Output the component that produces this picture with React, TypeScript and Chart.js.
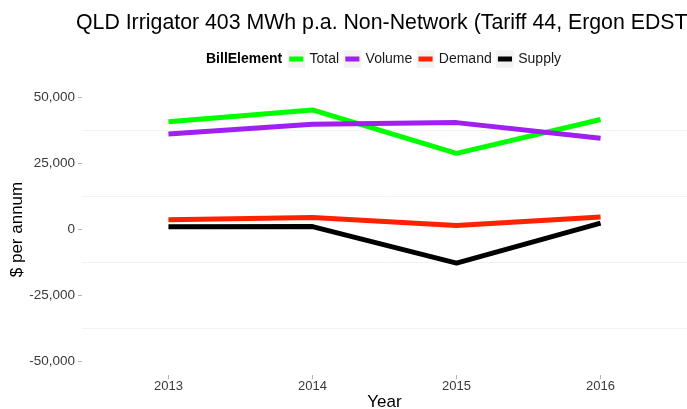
import React, { useEffect, useRef } from 'react';
import { Chart, registerables } from 'chart.js';

Chart.register(...registerables);

const years = [2013, 2014, 2015, 2016];
const seriesNames = ['Total', 'Volume', 'Demand', 'Supply'];
const totalValues = [40700, 45200, 28800, 41600];
const volumeValues = [36100, 39800, 40400, 34500];
const demandValues = [3700, 4500, 1500, 4700];
const supplyValues = [1000, 1100, -12700, 2400];
const seriesColors = ['#00ff00', '#a020f0', '#ff2200', '#000000'];
const yMajorTicks = [-50000, -25000, 0, 25000, 50000];
const yMinorTicks = [-37500, -12500, 12500, 37500];
const titleText = 'QLD Irrigator 403 MWh p.a. Non-Network (Tariff 44, Ergon EDST';
const legendTitle = 'BillElement';
const xAxisTitle = 'Year';
const yAxisTitle = '$ per annum';

const FONT = '"Liberation Sans", Arial, Helvetica, sans-serif';

const headerPlugin = {
  id: 'header',
  afterDraw(chart: any) {
    const ctx = chart.ctx as CanvasRenderingContext2D;
    ctx.save();
    // title
    ctx.fillStyle = '#000000';
    ctx.font = `21.3px ${FONT}`;
    ctx.textAlign = 'left';
    ctx.textBaseline = 'middle';
    ctx.fillText(titleText, 76, 23.5);

    // legend
    const cy = 59;
    let x = 206;
    ctx.font = `bold 14px ${FONT}`;
    ctx.fillStyle = '#000000';
    ctx.fillText(legendTitle, x, cy);
    x += ctx.measureText(legendTitle).width + 5.3;
    ctx.font = `14px ${FONT}`;
    chart.data.datasets.forEach((ds: any) => {
      const box = 17.5;
      ctx.fillStyle = '#f2f2f2';
      ctx.fillRect(x, cy - box / 2, box, box);
      ctx.strokeStyle = ds.borderColor;
      ctx.lineWidth = 5;
      ctx.lineCap = 'butt';
      ctx.beginPath();
      ctx.moveTo(x + 1.7, cy);
      ctx.lineTo(x + box - 1.7, cy);
      ctx.stroke();
      x += box + 4.5;
      ctx.fillStyle = '#1a1a1a';
      ctx.fillText(ds.label, x, cy);
      x += ctx.measureText(ds.label).width + 4.5;
    });
    ctx.restore();
  },
};

export default function App() {
  const canvasRef = useRef<HTMLCanvasElement | null>(null);

  useEffect(() => {
    const canvas = canvasRef.current;
    if (!canvas) return;
    const valueSets = [totalValues, volumeValues, demandValues, supplyValues];
    const datasets = seriesNames.map((name, i) => ({
      label: name,
      data: years.map((yr, j) => ({ x: yr, y: valueSets[i][j] })),
      borderColor: seriesColors[i],
      backgroundColor: seriesColors[i],
      borderWidth: 5,
      pointRadius: 0,
      pointHoverRadius: 0,
      tension: 0,
      fill: false,
      borderCapStyle: 'butt' as const,
      borderJoinStyle: 'round' as const,
      order: seriesNames.length - i,
    }));

    const chart = new Chart(canvas, {
      type: 'line',
      data: { datasets },
      plugins: [headerPlugin],
      options: {
        responsive: false,
        animation: false,
        devicePixelRatio: 1,
        layout: { padding: { top: 84, right: 0, bottom: 0, left: 0 } },
        plugins: {
          legend: { display: false },
          title: { display: false },
          tooltip: { enabled: false },
        },
        scales: {
          x: {
            type: 'linear',
            min: 2012.4,
            max: 2016.6,
            afterBuildTicks: (scale: any) => {
              scale.ticks = years.map((v) => ({ value: v }));
            },
            afterFit: (scale: any) => {
              scale.height = 34;
            },
            grid: {
              drawOnChartArea: false,
              drawTicks: true,
              tickLength: 4,
              tickColor: '#b3b3b3',
              color: 'rgba(0,0,0,0)',
            },
            border: { display: false },
            ticks: {
              autoSkip: false,
              maxRotation: 0,
              padding: 0,
              color: '#3a3a3a',
              font: { family: FONT, size: 13 },
              callback: (v: any) => String(v),
            },
            title: {
              display: true,
              text: xAxisTitle,
              color: '#000000',
              font: { family: FONT, size: 17, lineHeight: 0.75 },
              padding: { top: 0, bottom: 0 },
            },
          },
          y: {
            type: 'linear',
            min: -55000,
            max: 55000,
            afterBuildTicks: (scale: any) => {
              scale.ticks = [...yMajorTicks, ...yMinorTicks]
                .sort((a, b) => a - b)
                .map((v) => ({ value: v }));
            },
            afterFit: (scale: any) => {
              scale.width = 82;
            },
            grid: {
              drawOnChartArea: true,
              drawTicks: true,
              tickLength: 4,
              color: (c: any) =>
                c.tick && yMinorTicks.includes(c.tick.value) ? '#f2f2f2' : 'rgba(0,0,0,0)',
              tickColor: (c: any) =>
                c.tick && yMajorTicks.includes(c.tick.value) ? '#b3b3b3' : 'rgba(0,0,0,0)',
              lineWidth: 1,
            },
            border: { display: false },
            ticks: {
              autoSkip: false,
              padding: 3,
              color: '#3a3a3a',
              font: { family: FONT, size: 13.5 },
              callback: (v: any) =>
                yMajorTicks.includes(Number(v)) ? Number(v).toLocaleString('en-US') : '',
            },
            title: {
              display: true,
              text: yAxisTitle,
              color: '#000000',
              font: { family: FONT, size: 17 },
              padding: { top: 7, bottom: 0 },
            },
          },
        },
      },
    });
    return () => chart.destroy();
  }, []);

  return (
    <div style={{ position: 'absolute', left: 0, top: 0, width: 687, height: 409, background: '#ffffff', overflow: 'hidden' }}>
      <canvas ref={canvasRef} width={687} height={409} style={{ display: 'block', width: 687, height: 409 }} />
    </div>
  );
}
